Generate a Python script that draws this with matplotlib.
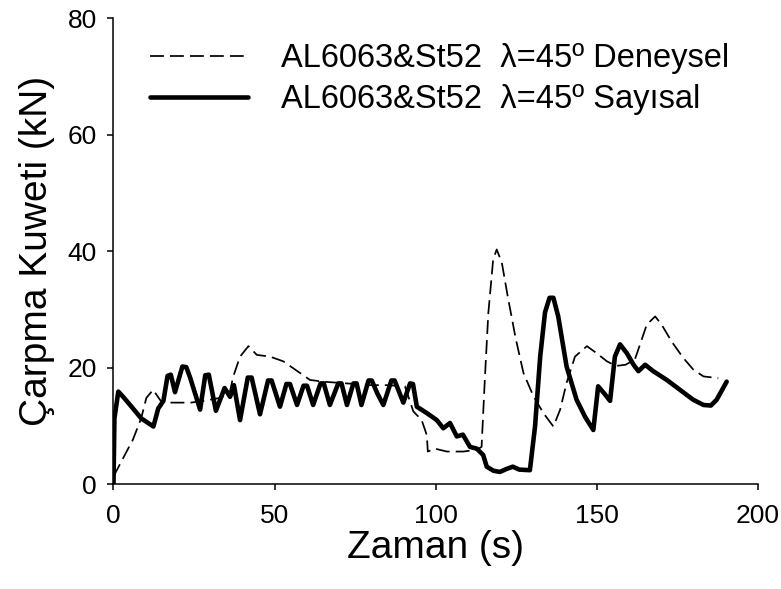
import matplotlib
matplotlib.use("Agg")
import matplotlib.pyplot as plt

# Sayisal (numerical) curve
t_say = [0, 0.3, 1.5, 3, 5.6, 8.6, 12.4, 13.9, 15.5, 16.8, 17.8, 19.1, 21.4, 22.6, 23.8, 26.9,
         28.5, 29.6, 31.8, 34.5, 36.2, 37.4, 39.3, 41.7, 42.9, 45.5, 48.0, 49.1, 51.7, 53.7, 54.8,
         57.0, 59.0, 60.1, 62.0, 64.3, 65.3, 67.2, 69.8, 70.8, 72.5, 74.5, 75.5, 77.0, 79.2,
         80.2, 82.0, 83.8, 86.3, 87.3, 90.0, 92.1, 93.0, 94.2, 97.3, 100.4, 102.4, 104.5,
         106.6, 108.5, 110.7, 112.8, 114.8, 115.9, 118, 120, 122, 124, 126, 129.3, 130.9,
         132.5, 134, 135.4, 136.6, 138.1, 140.7, 143.8, 146.5, 149, 150.5, 152.5, 154.2,
         155.7, 157.3, 159.4, 161.5, 163, 165.1, 167.6, 171.8, 175.9, 180, 183.2, 185.5,
         187.3, 190.4]
f_say = [0, 11.3, 15.9, 15.0, 13.3, 11.3, 9.9, 13.0, 14.3, 18.6, 18.8, 15.8, 20.2, 20.1, 18.3, 12.8,
         18.7, 18.8, 12.6, 16.5, 15.0, 17.0, 11.0, 18.3, 18.3, 12.0, 17.8, 17.8, 13.3, 17.2, 17.2,
         13.6, 16.9, 16.9, 13.6, 17.3, 17.3, 13.6, 17.3, 17.3, 13.6, 17.3, 17.3, 13.6, 17.8,
         17.8, 15.5, 13.6, 17.8, 17.8, 14.0, 17.3, 17.2, 13.3, 12.2, 11.0, 9.6, 10.5,
         8.2, 8.5, 6.4, 6.1, 5.0, 3.0, 2.3, 2.1, 2.6, 3.0, 2.5, 2.4, 9.9,
         21.9, 29.5, 32.0, 32.0, 28.8, 20.2, 14.5, 11.5, 9.3, 16.8, 15.5, 14.3,
         21.9, 24.0, 22.5, 20.5, 19.4, 20.5, 19.4, 17.9, 16.2, 14.5, 13.6, 13.5,
         14.5, 17.6]

# Deneysel (experimental) curve
t_den = [0, 3.5, 6, 8.6, 10.2, 12.3, 14.8, 18, 21, 24, 28, 33, 36, 37.2, 39.3, 41.9,
         44.5, 48.6, 52.7, 57.9, 61, 65, 70, 75, 80, 85, 90.5, 93.1, 95.7, 97.3,
         97.6, 99.8, 103.5, 108.6, 112.8, 114.3, 115.3, 116.4, 117.9, 119, 120.6,
         122.4, 124.9, 127.3, 130.4, 133.5, 136.6, 138.7, 140.7, 143.3, 147, 150,
         153.2, 156, 159, 161.9, 164, 165.6, 168.2, 170.2, 173.3, 176.9, 180,
         183.2, 187.8]
f_den = [1.3, 5, 7.6, 11.3, 14.8, 16.2, 14.2, 14, 14, 14, 14.3, 14.8, 15.5, 18.5, 21.9, 23.7,
         22.2, 21.9, 21.1, 19.1, 17.9, 17.6, 17.4, 17.2, 17.0, 17.0, 16.8, 12.5, 11.0, 8.4,
         5.6, 6.1, 5.6, 5.6, 5.9, 6.4, 17.9, 29.4, 38.6, 40.3, 38,
         32.3, 25, 19.1, 15.1, 12.2, 9.9, 12.8, 17.4, 21.9, 23.7, 22.5,
         21.1, 20.3, 20.5, 21.4, 24.8, 27.4, 28.8, 27.4, 24.5, 21.7, 19.7,
         18.5, 18.2]

lbl_den = "AL6063&St52  λ=45º Deneysel"
lbl_say = "AL6063&St52  λ=45º Sayısal"

plt.rcParams['font.family'] = ['Liberation Sans', 'DejaVu Sans']

fig = plt.figure(figsize=(7.81, 5.89), dpi=100)
ax = fig.add_axes([0.1453, 0.178, 0.8247, 0.791])

ax.plot(t_den, f_den, color="black", lw=1.25, dashes=(8, 3.5), label=lbl_den)
ax.plot(t_say, f_say, color="black", lw=3.3, solid_joinstyle="round",
        solid_capstyle="round", label=lbl_say)

ax.set_xlim(0, 200)
ax.set_ylim(0, 80)
ax.set_xticks([0, 50, 100, 150, 200])
ax.set_yticks([0, 20, 40, 60, 80])
ax.spines["top"].set_visible(False)
ax.spines["right"].set_visible(False)
for s in ("left", "bottom"):
    ax.spines[s].set_linewidth(1.1)
ax.tick_params(direction="out", length=4, width=1.1, labelsize=19)
ax.tick_params(axis="x", pad=10)
ax.tick_params(axis="y", pad=8)

ax.set_xlabel("Zaman (s)", fontsize=28, labelpad=2)
ax.set_ylabel("Çarpma Kuweti (kN)", fontsize=28, labelpad=9)

leg = ax.legend(loc="upper left", bbox_to_anchor=(0.057, 0.946), frameon=False,
                fontsize=23.5, handlelength=3.0, handletextpad=1.0, labelspacing=0.3,
                borderpad=0, borderaxespad=0)

fig.savefig("out.png", dpi=100)
